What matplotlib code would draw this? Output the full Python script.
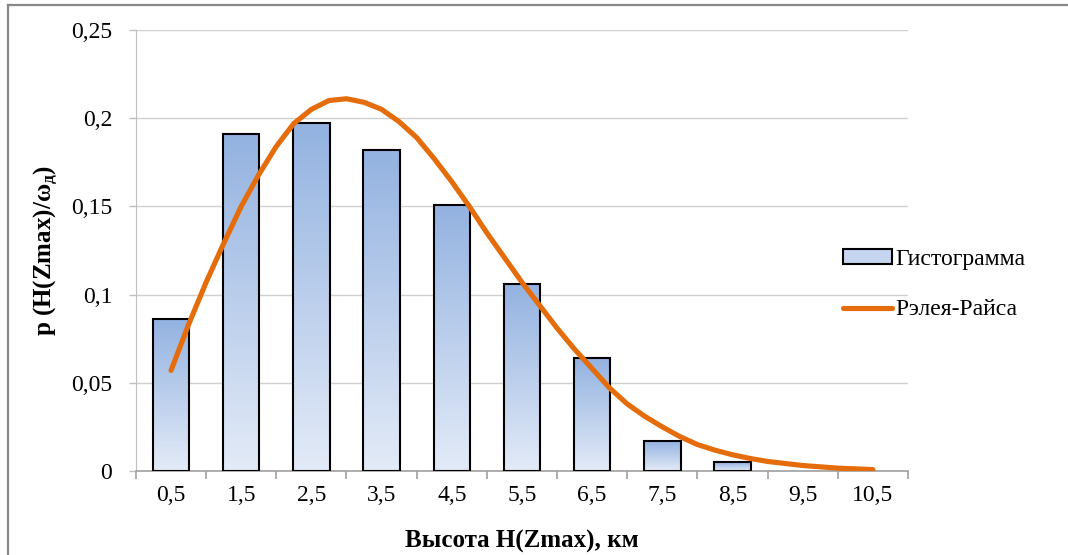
import numpy as np
import matplotlib
matplotlib.use("Agg")
import matplotlib.pyplot as plt
from matplotlib.lines import Line2D
from matplotlib.patches import Patch

# histogram bars (km bin centres -> probability)
heights_km = [0.5, 1.5, 2.5, 3.5, 4.5, 5.5, 6.5, 7.5, 8.5, 9.5, 10.5]
hist_vals = [0.086, 0.191, 0.197, 0.182, 0.151, 0.106, 0.064, 0.017, 0.005, 0.0, 0.0]
tick_labels = ["0,5", "1,5", "2,5", "3,5", "4,5", "5,5", "6,5", "7,5", "8,5", "9,5", "10,5"]

# Rayleigh-Rice curve
curve_x = [0.5, 0.75, 1.0, 1.25, 1.5, 1.75, 2.0, 2.25, 2.5, 2.75, 3.0, 3.25, 3.5,
           3.75, 4.0, 4.25, 4.5, 4.75, 5.0, 5.25, 5.5, 5.75, 6.0, 6.25, 6.5,
           6.75, 7.0, 7.25, 7.5, 7.75, 8.0, 8.25, 8.5, 8.75, 9.0, 9.5, 10.0, 10.5]
curve_y = [0.057, 0.083, 0.107, 0.129, 0.150, 0.168, 0.184, 0.197, 0.205, 0.210,
           0.211, 0.209, 0.205, 0.198, 0.189, 0.177, 0.164, 0.150, 0.135, 0.121,
           0.107, 0.094, 0.081, 0.069, 0.058, 0.047, 0.038, 0.031, 0.025, 0.0195,
           0.015, 0.0118, 0.0092, 0.0071, 0.0054, 0.0031, 0.0016, 0.0008]

yticks = [0, 0.05, 0.1, 0.15, 0.2, 0.25]
ytick_labels = ["0", "0,05", "0,1", "0,15", "0,2", "0,25"]

plt.rcParams['font.family'] = ['Liberation Serif', 'DejaVu Serif']
plt.rcParams['mathtext.fontset'] = 'custom'
plt.rcParams['mathtext.rm'] = 'Liberation Serif:bold'
plt.rcParams['mathtext.it'] = 'Liberation Serif:bold:italic'

fig = plt.figure(figsize=(10.68, 5.55), dpi=100)
ax = fig.add_axes([0.1273, 0.1514, 0.7228, 0.7946])

top_col = np.array([0.58, 0.70, 0.88])
bot_col = np.array([0.89, 0.92, 0.97])
grad = np.linspace(0, 1, 100)[:, None, None] * (top_col - bot_col) + bot_col
grad = grad[::-1]

bar_w = 0.52
bars = ax.bar(heights_km, hist_vals, width=bar_w, facecolor='none',
              edgecolor='black', linewidth=1.5, zorder=3)
for b in bars:
    if b.get_height() <= 0:
        b.set_visible(False)
        continue
    x0 = b.get_x()
    im = ax.imshow(grad, extent=[x0, x0 + bar_w, 0, b.get_height()],
                   aspect='auto', zorder=2, interpolation='bilinear')
    im.set_clip_path(b)

ax.plot(curve_x, curve_y, color='#e46c0a', linewidth=3.7, zorder=4,
        solid_capstyle='round', solid_joinstyle='round')

ax.set_xlim(0, 11)
ax.set_ylim(0, 0.25)
ax.set_xticks(heights_km)
ax.set_xticklabels(tick_labels, fontsize=17)
ax.set_xticks(np.arange(0, 12), minor=True)
ax.tick_params(axis='x', which='major', length=0, pad=10)
ax.tick_params(axis='x', which='minor', length=6, width=1.2, color='#a0a0a0')
ax.set_yticks(yticks)
ax.set_yticklabels(ytick_labels, fontsize=17)
ax.tick_params(axis='y', length=5, width=1.0, color='#bfbfbf', pad=12)

ax.grid(axis='y', color='#d0d0d0', linewidth=1.0, zorder=0)
ax.set_axisbelow(True)
for s in ['top', 'right']:
    ax.spines[s].set_visible(False)
ax.spines['left'].set_color('#bfbfbf')
ax.spines['bottom'].set_color('#a0a0a0')
ax.spines['bottom'].set_linewidth(1.2)

ax.set_xlabel("Высота H(Zmax), км", fontsize=18, fontweight='bold', labelpad=17)
ax.set_ylabel(r"p (H(Zmax)/ω$_{\mathrm{д}}$)", fontsize=18, fontweight='bold',
              labelpad=8)

handles = [Patch(facecolor='#c6d6f0', edgecolor='black', linewidth=1.5),
           Line2D([0], [0], color='#e46c0a', linewidth=3.7, solid_capstyle='round')]
fig.legend(handles, ["Гистограмма", "Рэлея-Райса"], loc='center left',
           bbox_to_anchor=(0.769, 0.487), frameon=False, fontsize=17,
           handlelength=2.1, handleheight=0.6, handletextpad=0.15,
           labelspacing=1.25)

# outer chart frame (top and left edges visible)
fig.add_artist(Line2D([8 / 1068, 1.0], [1 - 5 / 555, 1 - 5 / 555],
                      transform=fig.transFigure, color='#888888', linewidth=1.6))
fig.add_artist(Line2D([8 / 1068, 8 / 1068], [0.0, 1 - 5 / 555],
                      transform=fig.transFigure, color='#888888', linewidth=1.6))

fig.savefig("out.png", dpi=100)
plt.close(fig)
